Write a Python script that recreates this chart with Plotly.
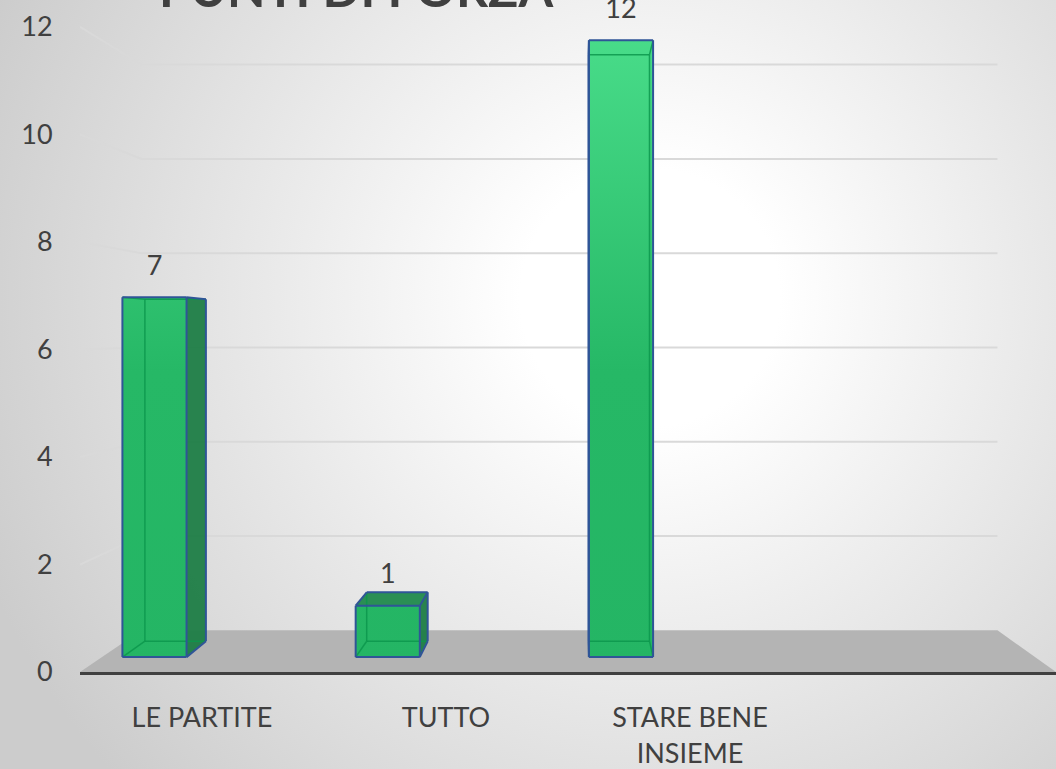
import base64
import plotly.graph_objects as go

# ---- chart data -------------------------------------------------------------
categories = ["LE PARTITE", "TUTTO", "STARE BENE<br>INSIEME"]
values = [7, 1, 12]
y_ticks = [0, 2, 4, 6, 8, 10, 12]
title_text = "PUNTI DI FORZA"

# ---- 3D look: simple one-point perspective in front-plane data units --------
VP_X, VP_Y = 1.549, 6.295          # vanishing point
S_FRONT, S_BACK, S_WALL = 0.956, 0.909, 0.877   # depth scale factors
BAR_OFFSET, BAR_WIDTH = -0.275, 0.275
LABEL_GAP = 0.55

FONT = "Lato"
TEXT_COLOR = "#404040"
GRID_COLOR = "#d9d9d9"
FLOOR_COLOR = "#b4b4b4"
EDGE_BLUE = "#2f5597"


def proj(x, y, s):
    return VP_X + (x - VP_X) * s, VP_Y + (y - VP_Y) * s


def add_poly(pts, X, Y):
    for px, py in pts:
        X.append(px)
        Y.append(py)
    X += [pts[0][0], None]
    Y += [pts[0][1], None]


fig = go.Figure()

# back-wall gridlines plus the receding lines on the left wall
gx, gy = [], []
for v in y_ticks[1:]:
    lx, ly = proj(-0.5, v, S_WALL)
    rx, ry = proj(3.5, v, S_WALL)
    gx += [-0.5, lx, rx, None]
    gy += [v, ly, ry, None]
fig.add_trace(go.Scatter(x=gx, y=gy, mode="lines",
                         line=dict(color=GRID_COLOR, width=2),
                         hoverinfo="skip", showlegend=False))

# floor
fl = [(-0.5, 0), (3.5, 0), proj(3.5, 0, S_WALL), proj(-0.5, 0, S_WALL)]
fx, fy = [], []
add_poly(fl, fx, fy)
fig.add_trace(go.Scatter(x=fx, y=fy, mode="lines", fill="toself",
                         fillcolor=FLOOR_COLOR, line=dict(width=0),
                         hoverinfo="skip", showlegend=False))

# bars as perspective boxes
front_x, front_y = [], []
side_x, side_y = [], []
top_x, top_y = [], []
hid_x, hid_y = [], []
vis_x, vis_y = [], []
lab_x, lab_y, lab_t = [], [], []
AX = "xys"
for i, v in enumerate(values):
    xc = i + BAR_OFFSET
    xs = (xc - BAR_WIDTH / 2, xc + BAR_WIDTH / 2)
    ys = (0, v)
    ss = (S_FRONT, S_BACK)

    def corner(a, b, c):
        return proj(xs[a], ys[b], ss[c])

    shown = {("s", 0)}
    if VP_X < xs[0]:
        shown.add(("x", 0))
    if VP_X > xs[1]:
        shown.add(("x", 1))
    if VP_Y > v:
        shown.add(("y", 1))

    add_poly([corner(0, 0, 0), corner(1, 0, 0), corner(1, 1, 0), corner(0, 1, 0)],
             front_x, front_y)
    if ("x", 1) in shown:
        add_poly([corner(1, 0, 0), corner(1, 0, 1), corner(1, 1, 1), corner(1, 1, 0)],
                 side_x, side_y)
    if ("x", 0) in shown:
        add_poly([corner(0, 0, 0), corner(0, 0, 1), corner(0, 1, 1), corner(0, 1, 0)],
                 side_x, side_y)
    if ("y", 1) in shown:
        add_poly([corner(0, 1, 0), corner(1, 1, 0), corner(1, 1, 1), corner(0, 1, 1)],
                 top_x, top_y)

    for axis in range(3):
        fixed = [k for k in range(3) if k != axis]
        for a in (0, 1):
            for b in (0, 1):
                idx = [0, 0, 0]
                idx[fixed[0]] = a
                idx[fixed[1]] = b
                p0 = list(idx)
                p1 = list(idx)
                p0[axis] = 0
                p1[axis] = 1
                faces = {(AX[fixed[0]], a), (AX[fixed[1]], b)}
                c0, c1 = corner(*p0), corner(*p1)
                if faces & shown:
                    vis_x += [c0[0], c1[0], None]
                    vis_y += [c0[1], c1[1], None]
                else:
                    hid_x += [c0[0], c1[0], None]
                    hid_y += [c0[1], c1[1], None]

    tx, ty = proj(xc, v, S_FRONT)
    lab_x.append(tx)
    lab_y.append(ty + LABEL_GAP)
    lab_t.append(str(v))

fig.add_trace(go.Scatter(x=side_x, y=side_y, mode="lines", fill="toself",
                         fillcolor="rgba(30,125,70,0.95)", line=dict(width=0),
                         hoverinfo="skip", showlegend=False))
fig.add_trace(go.Scatter(x=top_x, y=top_y, mode="lines", fill="toself",
                         fillcolor="rgba(32,138,76,0.95)", line=dict(width=0),
                         hoverinfo="skip", showlegend=False))
fig.add_trace(go.Scatter(
    x=front_x, y=front_y, mode="lines", fill="toself",
    fillgradient=dict(type="vertical", start=0, stop=12.5,
                      colorscale=[[0, "rgb(36,181,100)"], [0.45, "rgb(38,184,102)"],
                                  [1, "rgb(76,224,141)"]]),
    line=dict(width=0), hoverinfo="skip", showlegend=False))
fig.add_trace(go.Scatter(x=hid_x, y=hid_y, mode="lines",
                         line=dict(color="rgba(12,150,76,0.85)", width=1.5),
                         hoverinfo="skip", showlegend=False))
fig.add_trace(go.Scatter(x=vis_x, y=vis_y, mode="lines",
                         line=dict(color=EDGE_BLUE, width=2),
                         hoverinfo="skip", showlegend=False))
fig.add_trace(go.Scatter(x=lab_x, y=lab_y, mode="text", text=lab_t,
                         textposition="middle center",
                         textfont=dict(family=FONT, size=27, color=TEXT_COLOR),
                         hoverinfo="skip", showlegend=False))

# soft radial background (drawn a little taller than the page so it covers it fully)
W, H = 1056, 769
BH = H + 30
svg = f"""<svg xmlns='http://www.w3.org/2000/svg' width='{W}' height='{BH}'>
<defs><radialGradient id='g' gradientUnits='userSpaceOnUse' cx='650' cy='300' r='720'>
<stop offset='0' stop-color='#ffffff'/><stop offset='0.18' stop-color='#ffffff'/>
<stop offset='1' stop-color='#cccccc'/></radialGradient></defs>
<rect width='{W}' height='{BH}' fill='url(#g)'/></svg>"""
bg_uri = "data:image/svg+xml;base64," + base64.b64encode(svg.encode()).decode()

ML, MB = 80, 92
pw, ph = W - ML, H - MB

fig.update_layout(
    width=W, height=H,
    margin=dict(l=ML, r=0, t=0, b=MB, pad=0),
    paper_bgcolor="#d0d0d0",
    plot_bgcolor="rgba(0,0,0,0)",
    showlegend=False,
    images=[dict(source=bg_uri, xref="paper", yref="paper",
                 x=-ML / pw, y=1, sizex=W / pw, sizey=BH / ph,
                 xanchor="left", yanchor="top", sizing="stretch", layer="below")],
    xaxis=dict(range=[-0.5, 3.5], tickvals=[0, 1, 2], ticktext=categories,
               showgrid=False, zeroline=False, showline=True,
               linecolor=TEXT_COLOR, linewidth=3,
               ticks="outside", ticklen=20, tickcolor="rgba(0,0,0,0)",
               tickfont=dict(family=FONT, size=27, color=TEXT_COLOR),
               fixedrange=True),
    yaxis=dict(range=[0, 12.5], tickvals=y_ticks,
               showgrid=False, zeroline=False, showline=False,
               ticks="outside", ticklen=21, tickcolor="rgba(0,0,0,0)",
               tickfont=dict(family=FONT, size=27, color=TEXT_COLOR),
               fixedrange=True),
    annotations=[dict(text=f"<b>{title_text}</b>", xref="paper", yref="paper",
                      x=(356 - ML) / pw, y=1 - 20 / ph, xanchor="center",
                      yanchor="bottom", showarrow=False,
                      font=dict(family=FONT, size=50, color=TEXT_COLOR))],
)

fig.write_html("out.html")
